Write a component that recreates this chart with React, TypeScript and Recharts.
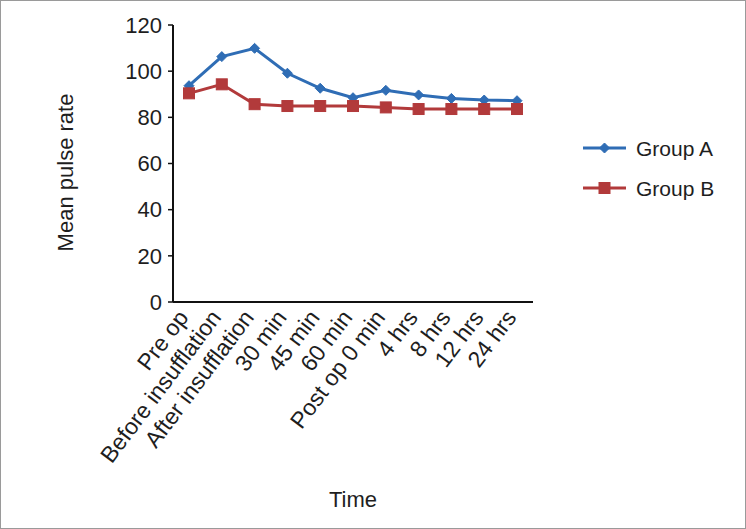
import React from "react";
import { LineChart, Line, XAxis, YAxis } from "recharts";

const categories = [
  "Pre op",
  "Before insufflation",
  "After insufflation",
  "30 min",
  "45 min",
  "60 min",
  "Post op 0 min",
  "4 hrs",
  "8 hrs",
  "12 hrs",
  "24 hrs",
];
const groupA = [93.7, 106.3, 109.9, 99.1, 92.6, 88.5, 91.7, 89.7, 88.2, 87.5, 87.2];
const groupB = [90.4, 94.3, 85.7, 84.9, 84.9, 84.9, 84.3, 83.6, 83.6, 83.6, 83.6];
const yTicks = [0, 20, 40, 60, 80, 100, 120];
const seriesNames = ["Group A", "Group B"];

const data = categories.map((c, i) => ({ name: c, a: groupA[i], b: groupB[i] }));

const BLUE = "#2F6DB5";
const RED = "#B23A3B";
const FONT = "Liberation Sans, Arial, sans-serif";
const TEXT = "#1e1e1e";

const Diamond = (props: any) => {
  const { cx, cy } = props;
  if (cx == null || cy == null) return null;
  const r = 5;
  return (
    <path
      d={`M${cx},${cy - r} L${cx + r},${cy} L${cx},${cy + r} L${cx - r},${cy} Z`}
      fill={BLUE}
      stroke={BLUE}
    />
  );
};

const Square = (props: any) => {
  const { cx, cy } = props;
  if (cx == null || cy == null) return null;
  const s = 11;
  return <rect x={cx - s / 2} y={cy - s / 2} width={s} height={s} fill={RED} stroke={RED} />;
};

const XTick = (props: any) => {
  const { x, y, payload } = props;
  const ax = x - 6;
  const ay = y + 3;
  return (
    <text
      x={ax}
      y={ay}
      transform={`rotate(-53, ${ax}, ${ay})`}
      textAnchor="end"
      dominantBaseline="central"
      fontSize={23}
      fontFamily={FONT}
      fill={TEXT}
    >
      {payload.value}
    </text>
  );
};

const YLabel = (props: any) => {
  const { viewBox } = props;
  const cx = 65;
  const cy = viewBox.y + viewBox.height / 2 + 9;
  return (
    <text
      x={cx}
      y={cy}
      transform={`rotate(-90, ${cx}, ${cy})`}
      textAnchor="middle"
      dominantBaseline="central"
      fontSize={22}
      fontFamily={FONT}
      fill={TEXT}
    >
      Mean pulse rate
    </text>
  );
};

const LegendBox = () => (
  <svg width={170} height={80} style={{ position: "absolute", left: 575, top: 130 }}>
    <line x1={7} y1={17} x2={50} y2={17} stroke={BLUE} strokeWidth={3} />
    <Diamond cx={28.5} cy={17} />
    <text x={60} y={17} dominantBaseline="central" fontSize={21} fontFamily={FONT} fill={TEXT}>
      {seriesNames[0]}
    </text>
    <line x1={7} y1={57} x2={50} y2={57} stroke={RED} strokeWidth={3} />
    <Square cx={28.5} cy={57} />
    <text x={60} y={57} dominantBaseline="central" fontSize={21} fontFamily={FONT} fill={TEXT}>
      {seriesNames[1]}
    </text>
  </svg>
);

export default function App() {
  return (
    <div
      style={{
        position: "absolute",
        left: 0,
        top: 0,
        width: 746,
        height: 529,
        border: "1px solid #9a9a9a",
        boxSizing: "border-box",
        background: "#fff",
      }}
    >
      <div style={{ position: "absolute", left: -1, top: -1 }}>
        <LineChart
          width={746}
          height={529}
          data={data}
          margin={{ top: 25, right: 213, bottom: 0, left: 0 }}
        >
          <XAxis
            dataKey="name"
            interval={0}
            height={227}
            padding={{ left: 16, right: 16 }}
            tick={<XTick />}
            tickLine={false}
            axisLine={{ stroke: "#111", strokeWidth: 2 }}
            label={{
              value: "Time",
              position: "insideBottom",
              offset: 22,
              fontSize: 22,
              fontFamily: FONT,
              fill: TEXT,
            }}
          />
          <YAxis
            domain={[0, 120]}
            ticks={yTicks}
            width={173}
            tickSize={5}
            tickMargin={6}
            tickLine={{ stroke: "#111", strokeWidth: 1.5 }}
            axisLine={{ stroke: "#111", strokeWidth: 2 }}
            tick={{ fontSize: 22, fontFamily: FONT, fill: TEXT }}
            label={<YLabel />}
          />
          <Line
            dataKey="a"
            name={seriesNames[0]}
            stroke={BLUE}
            strokeWidth={3}
            dot={<Diamond />}
            isAnimationActive={false}
          />
          <Line
            dataKey="b"
            name={seriesNames[1]}
            stroke={RED}
            strokeWidth={3}
            dot={<Square />}
            isAnimationActive={false}
          />
        </LineChart>
      </div>
      <LegendBox />
    </div>
  );
}
